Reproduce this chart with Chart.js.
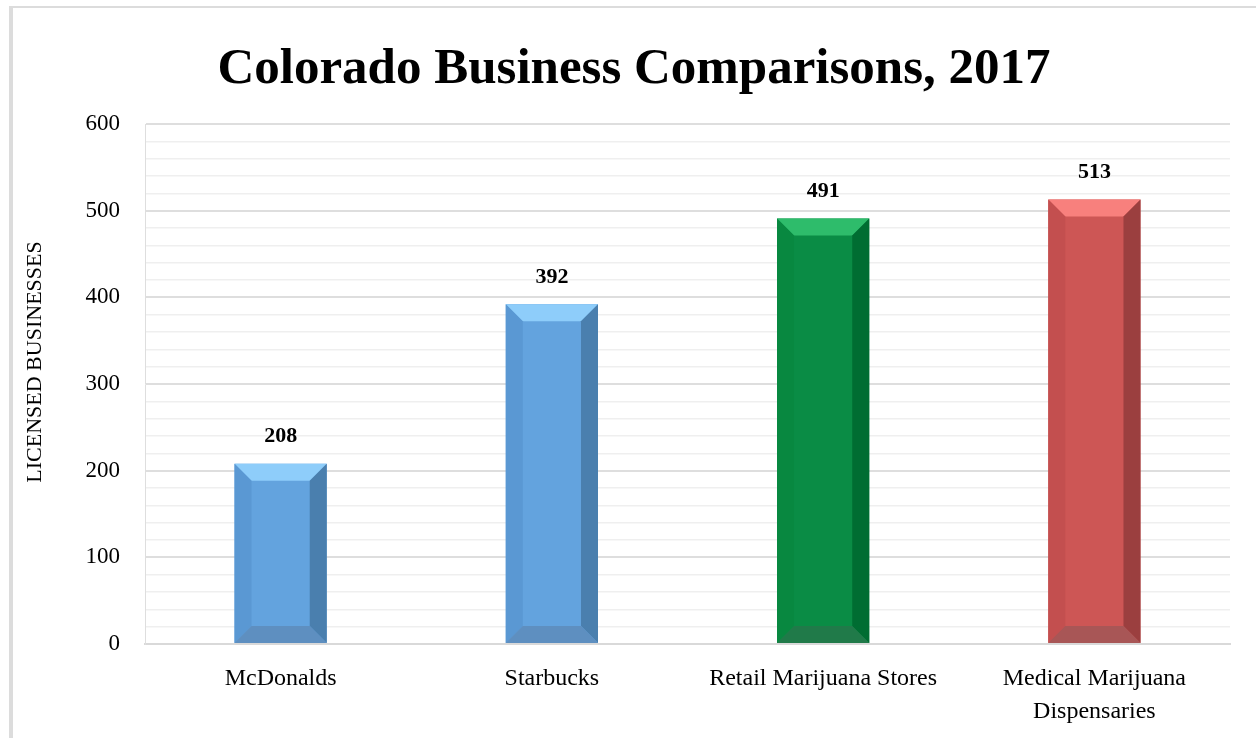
<!DOCTYPE html>
<html>
<head>
<meta charset="utf-8">
<title>Colorado Business Comparisons, 2017</title>
<script src="https://cdn.jsdelivr.net/npm/chart.js@4"></script>
<style>
  body { margin: 0; background: #fff; }
  canvas { display: block; }
</style>
</head>
<body>
<canvas id="myChart" width="1256" height="738"></canvas>
<script>
// data
const categories = ["McDonalds", "Starbucks", "Retail Marijuana Stores", ["Medical Marijuana", "Dispensaries"]];
const businessCounts = [208, 392, 491, 513];
const yTicks = [0, 100, 200, 300, 400, 500, 600];
const chartTitle = "Colorado Business Comparisons, 2017";
const yAxisTitle = "LICENSED BUSINESSES";

// bar colours: face, top, left, right, bottom
const faceColors   = ["#63a3de", "#63a3de", "#0a8c45", "#cd5655"];
const topColors    = ["#8ecdfa", "#8ecdfa", "#2ebc6b", "#f8807d"];
const leftColors   = ["#5a98d3", "#5a98d3", "#088840", "#c34f4f"];
const rightColors  = ["#4a7fae", "#4a7fae", "#006d32", "#9b3f3f"];
const bottomColors = ["#5e8fc0", "#5e8fc0", "#207a49", "#a85656"];

const serif = "'Liberation Serif', 'DejaVu Serif', serif";

// border round the whole chart, the title and the y axis title
const frame = {
    id: "frame",
    beforeDraw(chart) {
        const ctx = chart.ctx;
        ctx.save();
        ctx.fillStyle = "#dcdcdc";
        ctx.fillRect(9, 6, 4, 738);
        ctx.fillRect(9, 6, 1247, 2);

        ctx.fillStyle = "#000";
        ctx.font = "bold 51px " + serif;
        ctx.textAlign = "center";
        ctx.textBaseline = "alphabetic";
        ctx.fillText(chartTitle, 634, 83);

        // y axis title, a bit above the middle like the original
        ctx.translate(35, 362);
        ctx.rotate(-Math.PI / 2);
        ctx.font = "22px " + serif;
        ctx.textBaseline = "middle";
        ctx.fillText(yAxisTitle, 0, 0);
        ctx.restore();
    }
};

// bevelled look + value labels on top of each bar
const bevel = {
    id: "bevel",
    afterDatasetsDraw(chart) {
        const ctx = chart.ctx;
        const bars = chart.getDatasetMeta(0).data;
        bars.forEach((bar, i) => {
            const l = bar.x - bar.width / 2, r = bar.x + bar.width / 2;
            const t = bar.y, b = bar.base;
            const d = 17;
            const poly = (pts, col) => {
                ctx.beginPath();
                ctx.moveTo(pts[0][0], pts[0][1]);
                for (let k = 1; k < pts.length; k++) ctx.lineTo(pts[k][0], pts[k][1]);
                ctx.closePath();
                ctx.fillStyle = col;
                ctx.fill();
            };
            ctx.save();
            poly([[l, t], [r, t], [r - d, t + d], [l + d, t + d]], topColors[i]);
            poly([[l, t], [l + d, t + d], [l + d, b - d], [l, b]], leftColors[i]);
            poly([[r, t], [r, b], [r - d, b - d], [r - d, t + d]], rightColors[i]);
            poly([[l, b], [l + d, b - d], [r - d, b - d], [r, b]], bottomColors[i]);

            ctx.fillStyle = "#000";
            ctx.font = "bold 22px " + serif;
            ctx.textAlign = "center";
            ctx.textBaseline = "middle";
            ctx.fillText(businessCounts[i], bar.x, t - 27);
            ctx.restore();
        });
    }
};

new Chart(document.getElementById("myChart"), {
    type: "bar",
    data: {
        labels: categories,
        datasets: [{
            label: "Licensed Businesses",
            data: businessCounts,
            backgroundColor: faceColors,
            borderWidth: 0,
            categoryPercentage: 1,
            barPercentage: 0.34
        }]
    },
    options: {
        responsive: false,
        animation: false,
        layout: { padding: { left: 13, right: 26, top: 124, bottom: 0 } },
        plugins: {
            legend: { display: false },
            tooltip: { enabled: false },
            title: { display: false }
        },
        scales: {
            x: {
                grid: { display: false, drawTicks: false },
                border: { display: true, color: "#d9d9d9", width: 2 },
                ticks: {
                    color: "#000",
                    padding: 18,
                    maxRotation: 0,
                    font: { family: serif, size: 24, lineHeight: 1.38 }
                },
                afterFit(scale) { scale.height = 94; }
            },
            y: {
                min: yTicks[0],
                max: yTicks[yTicks.length - 1],
                grid: {
                    drawTicks: false,
                    color: ctx => (ctx.tick && ctx.tick.value % 100 === 0) ? "#dedede" : "#efefef",
                    lineWidth: ctx => (ctx.tick && ctx.tick.value % 100 === 0) ? 2 : 1.5
                },
                border: { display: true, color: "#dedede", width: 1 },
                ticks: {
                    stepSize: 20,
                    autoSkip: false,
                    color: "#000",
                    padding: 25,
                    font: { family: serif, size: 23 },
                    callback: v => yTicks.includes(v) ? v : ""
                },
                title: { display: false },
                afterFit(scale) { scale.width = 132; }
            }
        }
    },
    plugins: [frame, bevel]
});
</script>
</body>
</html>
